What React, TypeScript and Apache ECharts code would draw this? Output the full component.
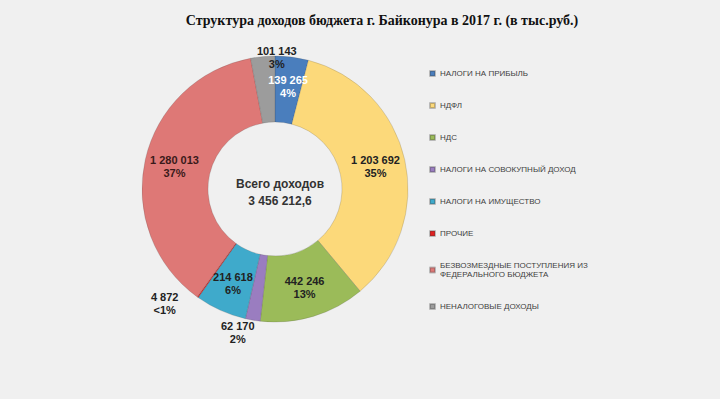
import React, { useEffect, useRef } from "react";
import * as echarts from "echarts";

const titleText = "Структура доходов бюджета г. Байконура в 2017 г. (в тыс.руб.)";
const centerLines = ["Всего доходов", "3 456 212,6"];

const categories = [
  "НАЛОГИ НА ПРИБЫЛЬ",
  "НДФЛ",
  "НДС",
  "НАЛОГИ НА СОВОКУПНЫЙ ДОХОД",
  "НАЛОГИ НА ИМУЩЕСТВО",
  "ПРОЧИЕ",
  "БЕЗВОЗМЕЗДНЫЕ ПОСТУПЛЕНИЯ ИЗ\nФЕДЕРАЛЬНОГО БЮДЖЕТА",
  "НЕНАЛОГОВЫЕ ДОХОДЫ",
];
const values = [139265, 1203692, 442246, 62170, 214618, 4872, 1280013, 101143];
const valueLabels = ["139 265", "1 203 692", "442 246", "62 170", "214 618", "4 872", "1 280 013", "101 143"];
const percentLabels = ["4%", "35%", "13%", "2%", "6%", "<1%", "37%", "3%"];
const colors = ["#4A7EBD", "#FCD97A", "#9BBB59", "#9A7DC0", "#3FAACB", "#E02020", "#DE7876", "#9C9C9C"];
const labelColors = ["#ffffff", "#222", "#222", "#222", "#222", "#222", "#3a1a1a", "#222"];
const outsideItems = [3, 5, 7];
const outsideShift: Record<number, [number, number]> = { 7: [19, 1], 3: [-10, 12], 5: [-28, 6] };

export default function App() {
  const ref = useRef<HTMLDivElement>(null);
  useEffect(() => {
    document.body.style.margin = "0";
    const chart = echarts.init(ref.current!, null, { renderer: "svg" });
    const data = categories.map((name, i) => ({
      name,
      value: values[i],
      itemStyle: { color: colors[i] },
      label: {
        position: outsideItems.includes(i) ? "outside" : "inside",
        color: labelColors[i],
      },
    }));
    chart.setOption({
      animation: false,
      backgroundColor: "#f0f0f0",
      title: [
        {
          text: titleText,
          left: 377,
          top: 8,
          textAlign: "center",
          textStyle: { fontFamily: "Liberation Serif", fontWeight: "bold", fontSize: 14, color: "#111" },
        },
        {
          text: centerLines.join("\n"),
          left: 275,
          top: 170,
          textAlign: "center",
          textStyle: {
            fontFamily: "Liberation Sans",
            fontWeight: "bold",
            fontSize: 12,
            lineHeight: 17,
            color: "#333",
          },
        },
      ],
      legend: {
        orient: "vertical",
        left: 424,
        top: 64,
        icon: "rect",
        itemWidth: 5,
        itemHeight: 5,
        itemGap: 23,
        data: categories,
        textStyle: { fontFamily: "Liberation Sans", fontSize: 8, color: "#404040", lineHeight: 9 },
      },
      series: [
        {
          type: "pie",
          center: [275, 189],
          radius: [67, 133],
          startAngle: 90,
          clockwise: true,
          avoidLabelOverlap: false,
          itemStyle: { borderColor: "rgba(60,60,60,0.3)", borderWidth: 0.6 },
          label: {
            show: true,
            fontFamily: "Liberation Sans",
            fontWeight: "bold",
            fontSize: 11,
            lineHeight: 13,
            formatter: (p: any) => valueLabels[p.dataIndex] + "\n" + percentLabels[p.dataIndex],
          },
          labelLine: { show: false, length: 0, length2: 0 },
          labelLayout: (p: any) => {
            const s = outsideShift[p.dataIndex];
            if (s) return { align: "center", dx: s[0], dy: s[1] };
            return {};
          },
          data,
        },
      ],
    });
    return () => chart.dispose();
  }, []);
  return <div ref={ref} style={{ width: 720, height: 399 }} />;
}
